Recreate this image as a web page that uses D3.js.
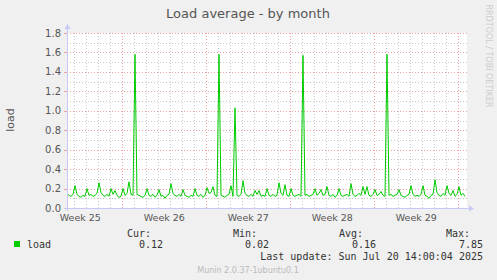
<!DOCTYPE html>
<html>
<head>
<meta charset="utf-8">
<script src="https://cdn.jsdelivr.net/npm/d3@7"></script>
<style>
  body { margin: 0; background: #f0f0f0; }
  text { font-family: "DejaVu Sans", sans-serif; }
  .mono { font-family: "DejaVu Sans Mono", monospace; font-size: 10px; fill: #333; }
</style>
</head>
<body>
<div id="chart"></div>
<script>
// load average, one value every 4 hours (6 per day), oldest first
const load = [
  0.15,0.13,0.12,0.14,0.23,0.14,0.12,0.11,0.13,0.12,
  0.20,0.13,0.14,0.12,0.13,0.15,0.26,0.16,0.13,0.12,
  0.14,0.12,0.20,0.14,0.18,0.13,0.11,0.12,0.20,0.13,
  0.15,0.27,0.14,0.13,1.58,0.14,0.13,0.12,0.11,0.13,
  0.20,0.13,0.12,0.14,0.11,0.13,0.19,0.12,0.13,0.10,
  0.13,0.14,0.25,0.15,0.13,0.12,0.14,0.12,0.19,0.13,
  0.12,0.11,0.13,0.12,0.20,0.13,0.12,0.14,0.11,0.13,
  0.21,0.15,0.16,0.22,0.13,0.12,1.58,0.13,0.12,0.11,
  0.13,0.14,0.23,0.12,1.03,0.13,0.12,0.14,0.28,0.15,
  0.13,0.12,0.14,0.12,0.18,0.14,0.18,0.12,0.13,0.12,
  0.20,0.13,0.12,0.14,0.12,0.13,0.26,0.15,0.13,0.24,
  0.13,0.12,0.20,0.13,0.12,0.13,0.14,0.12,1.57,0.13,
  0.14,0.12,0.13,0.14,0.20,0.13,0.15,0.19,0.13,0.14,
  0.22,0.13,0.12,0.14,0.11,0.13,0.20,0.13,0.12,0.13,
  0.14,0.12,0.25,0.14,0.12,0.13,0.15,0.13,0.22,0.14,
  0.22,0.13,0.12,0.14,0.19,0.13,0.14,0.17,0.13,0.12,
  1.58,0.13,0.14,0.12,0.13,0.14,0.19,0.13,0.12,0.11,
  0.13,0.14,0.23,0.14,0.12,0.13,0.12,0.14,0.23,0.13,
  0.12,0.10,0.13,0.14,0.29,0.16,0.13,0.12,0.15,0.13,
  0.23,0.15,0.13,0.18,0.12,0.14,0.22,0.13,0.15,0.12
];
const stepDays = 1 / 6;
const spanDays = 400 / 12;          // month view, 12 px a day
const firstMidnight = 0.61;         // days from graph start
const weekLabels = ["Week 25", "Week 26", "Week 27", "Week 28", "Week 29"];
const firstWeekBoundary = 4.61;     // monday 00:00 after start of Week 25
const yTicks = [0, 0.2, 0.4, 0.6, 0.8, 1.0, 1.2, 1.4, 1.6, 1.8];
const legendHeads = ["Cur:", "Min:", "Avg:", "Max:"];
const legendValues = ["0.12", "0.02", "0.16", "7.85"];

const W = 497, H = 280;
const pl = 67, pr = 467, pt = 33, pb = 208;

const svg = d3.select("#chart").append("svg")
  .attr("width", W).attr("height", H);

svg.append("rect").attr("width", W).attr("height", H).attr("fill", "#f0f0f0");

const x = d3.scaleLinear().domain([0, spanDays]).range([pl, pr]);
const y = d3.scaleLinear().domain([0, 1.8]).range([pb, pt]);

svg.append("rect")
  .attr("x", pl).attr("y", pt)
  .attr("width", pr - pl).attr("height", pb - pt)
  .attr("fill", "#fff");

// grid
const g = svg.append("g");
const minorY = d3.range(1, 18).map((d) => d / 10).filter((d) => Math.round(d * 10) % 2);
g.selectAll(".hmin").data(minorY).join("line")
  .attr("x1", pl).attr("x2", pr)
  .attr("y1", (d) => Math.round(y(d)) + 0.5).attr("y2", (d) => Math.round(y(d)) + 0.5)
  .attr("stroke", "#c8c8c8").attr("stroke-dasharray", "1,2");

const days = d3.range(0, 33).map((k) => firstMidnight + k);
g.selectAll(".vmin").data(days.filter((d, k) => (k - 4) % 7 !== 0)).join("line")
  .attr("x1", (d) => Math.round(x(d)) + 0.5).attr("x2", (d) => Math.round(x(d)) + 0.5)
  .attr("y1", pt).attr("y2", pb)
  .attr("stroke", "#c8c8c8").attr("stroke-dasharray", "1,2");

g.selectAll(".hmaj").data(yTicks.slice(1)).join("line")
  .attr("x1", pl).attr("x2", pr)
  .attr("y1", (d) => Math.round(y(d)) + 0.5).attr("y2", (d) => Math.round(y(d)) + 0.5)
  .attr("stroke", "#f0a0a0").attr("stroke-dasharray", "1,2");

const weeks = weekLabels.map((d, i) => firstWeekBoundary + 7 * i);
g.selectAll(".vmaj").data(weeks).join("line")
  .attr("x1", (d) => Math.round(x(d)) + 0.5).attr("x2", (d) => Math.round(x(d)) + 0.5)
  .attr("y1", pt).attr("y2", pb)
  .attr("stroke", "#f0a0a0").attr("stroke-dasharray", "1,2");

// ticks outside plot
g.selectAll(".ytk").data(yTicks).join("line")
  .attr("x1", pl - 3).attr("x2", pl)
  .attr("y1", (d) => Math.round(y(d)) + 0.5).attr("y2", (d) => Math.round(y(d)) + 0.5)
  .attr("stroke", "#e8a0a0");

svg.selectAll(".ylab").data(yTicks).join("text")
  .attr("x", pl - 6).attr("y", (d) => y(d) + 3.5)
  .attr("text-anchor", "end").attr("font-size", 10).attr("fill", "#555")
  .text((d) => d3.format(".1f")(d));

svg.selectAll(".xlab").data(weekLabels).join("text")
  .attr("x", (d, i) => x(weeks[i] - 3.5)).attr("y", 221)
  .attr("text-anchor", "middle").attr("font-size", 9.5).attr("fill", "#555")
  .text((d) => d);

// data line
const line = d3.line()
  .x((d, i) => x(i * stepDays))
  .y((d) => y(d));
svg.append("path").datum(load)
  .attr("d", line)
  .attr("fill", "none").attr("stroke", "#00cc00").attr("stroke-width", 1);

// axes with arrows
const axisColor = "#c8c8f8";
svg.append("line").attr("x1", pl + 0.5).attr("x2", pl + 0.5)
  .attr("y1", pb + 3).attr("y2", 28).attr("stroke", axisColor);
svg.append("line").attr("x1", pl - 3).attr("x2", 470)
  .attr("y1", pb + 0.5).attr("y2", pb + 0.5).attr("stroke", axisColor);
svg.append("path").attr("d", `M${pl - 2.5},${29} L${pl + 0.5},${24} L${pl + 3.5},${29} Z`)
  .attr("fill", axisColor);
svg.append("path").attr("d", `M${469},${pb - 2.5} L${474},${pb + 0.5} L${469},${pb + 3.5} Z`)
  .attr("fill", axisColor);

// titles
svg.append("text").attr("x", 248).attr("y", 18)
  .attr("text-anchor", "middle").attr("font-size", 13).attr("fill", "#555")
  .text("Load average - by month");

svg.append("text")
  .attr("transform", `translate(14,120) rotate(-90)`)
  .attr("text-anchor", "middle").attr("font-size", 11).attr("fill", "#555")
  .text("load");

svg.append("text")
  .attr("transform", `translate(486,56) rotate(90)`)
  .attr("text-anchor", "middle").attr("font-size", 8).attr("fill", "#cccccc")
  .text("RRDTOOL / TOBI OETIKER");

// legend
svg.append("rect").attr("x", 14).attr("y", 241).attr("width", 6).attr("height", 6)
  .attr("fill", "#00cc00");
svg.append("text").attr("class", "mono").attr("x", 27).attr("y", 248).text("load");

const headX = [151, 257, 363, 470];
const valX = [163, 269, 376, 483];
svg.selectAll(".lh").data(legendHeads).join("text")
  .attr("class", "mono").attr("text-anchor", "end")
  .attr("x", (d, i) => headX[i]).attr("y", 237).text((d) => d);
svg.selectAll(".lv").data(legendValues).join("text")
  .attr("class", "mono").attr("text-anchor", "end")
  .attr("x", (d, i) => valX[i]).attr("y", 248).text((d) => d);

svg.append("text").attr("class", "mono").attr("text-anchor", "end")
  .attr("x", 483).attr("y", 260).text("Last update: Sun Jul 20 14:00:04 2025");

svg.append("text").attr("x", 248).attr("y", 273)
  .attr("text-anchor", "middle").attr("font-size", 8).attr("fill", "#bbb")
  .text("Munin 2.0.37-1ubuntu0.1");
</script>
</body>
</html>
